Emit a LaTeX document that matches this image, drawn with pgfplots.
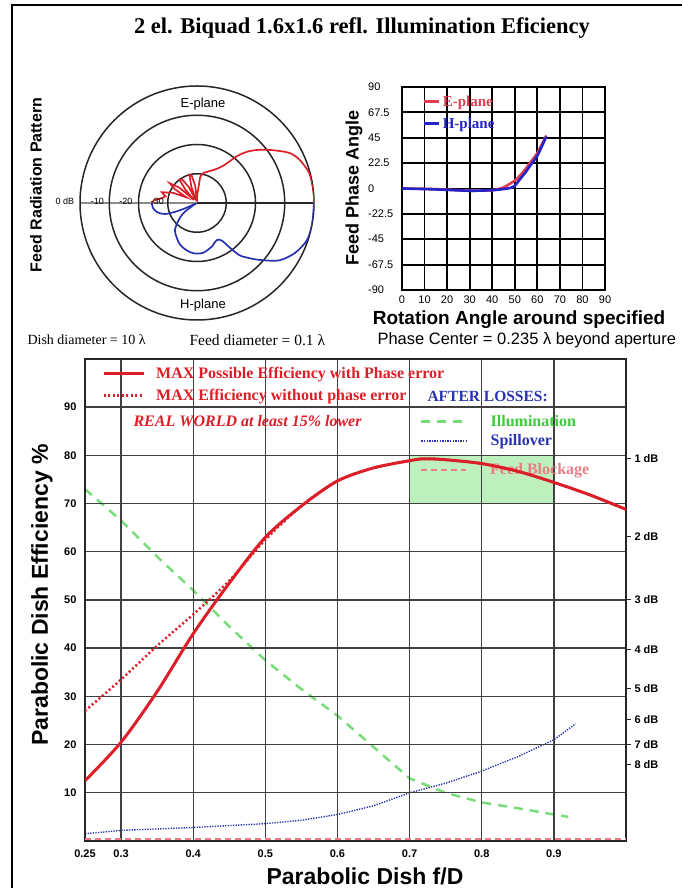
\documentclass[border=0pt]{standalone}
\usepackage{pgfplots}
\pgfplotsset{compat=1.18}
\usepgfplotslibrary{polar}
\usepackage{fontspec}
\setmainfont{Liberation Serif}
\setsansfont{Liberation Sans}
\definecolor{mred}{RGB}{220,30,40}
\definecolor{pred}{RGB}{225,60,80}
\definecolor{mblue}{RGB}{40,50,175}
\definecolor{pblue}{RGB}{35,35,200}
\definecolor{mgreen}{RGB}{120,220,120}
\definecolor{tgreen}{RGB}{60,205,60}
\definecolor{mpink}{RGB}{235,125,135}
\definecolor{fgreen}{RGB}{190,240,190}
\begin{document}
\begin{tikzpicture}
\useasboundingbox (0pt,0pt) rectangle (681pt,888pt);
\draw[line width=2.5pt] (12pt,-2pt) -- (12pt,883pt) -- (683pt,883pt);
\node[font=\bfseries\fontsize{22.5}{26}\selectfont] at (362pt,860pt) {2 el. Biquad 1.6x1.6 refl. Illumination Eficiency};

% ---------- polar pattern ----------
\begin{polaraxis}[at={(197pt,685pt)}, anchor=center, scale only axis,
  width=234pt, height=234pt, ymin=0, ymax=40,
  xtick={0,180}, ytick={10,20,30}, xticklabels={}, yticklabels={},
  major tick length=0pt, xmajorgrids, ymajorgrids,
  x grid style={black!45, line width=2pt},
  y grid style={black!85, line width=1.5pt},
  axis line style={black!85, line width=1.5pt}]
\addplot[mred, line width=1.7pt, smooth, tension=0.5] coordinates {
(0,40) (6,40) (15,39.7) (23,38) (28.5,35.9) (35,31.5) (40.5,28) (45,25) (48,22.5) (50,20.5) (52,18) (55,15.5) (60,13.5) (65,12.3) (72,11.2) (78,10.5) (83,9)};
\addplot[mred, line width=1.7pt] coordinates {
(83,9) (88,3) (91,0.5) (96,6) (101,9.5) (105,10) (109,6) (113,1) (117,6) (122,9.5) (127,10) (131,6) (135,1.5) (139,8) (144,11.5) (148,9) (152,4) (157,9) (163,12.6) (168,11) (172,12) (176,14.7) (180,15.4)};
\addplot[mblue, line width=1.7pt, smooth, tension=0.5] coordinates {
(0,40) (-10,40) (-18.6,39.7) (-27,37.6) (-35,34.2) (-42.6,28.7) (-48,25) (-51,22.9) (-54,18.5) (-56,15.8) (-59,14.6) (-62,14.4) (-66,14.8) (-71,15.7) (-82,17.1) (-90,17.3) (-96,17.1) (-103,16.5) (-112,15.4) (-120,13.8) (-129,12) (-136,9) (-143,6) (-148,2) (-152,0.3)};
\addplot[mblue, line width=1.7pt, smooth, tension=0.5] coordinates {
(-152,0.3) (-156,4.5) (-158,8) (-161,11.6) (-167,14) (-174,15.2) (-180,15.4)};
\end{polaraxis}
\node[rotate=90, font=\sffamily\bfseries\fontsize{16}{18}\selectfont] at (36pt,703pt) {Feed Radiation Pattern};
\node[font=\sffamily\fontsize{13}{14}\selectfont] at (203pt,784pt) {E-plane};
\node[font=\sffamily\fontsize{13}{14}\selectfont] at (203pt,583pt) {H-plane};
\node[font=\sffamily\fontsize{9}{10}\selectfont] at (65pt,687pt) {0 dB};
\node[font=\sffamily\fontsize{9}{10}\selectfont] at (97.5pt,687pt) {-10};
\node[font=\sffamily\fontsize{9}{10}\selectfont] at (126pt,687pt) {-20};
\node[font=\sffamily\fontsize{9}{10}\selectfont] at (157.5pt,687pt) {-30};

% ---------- phase plot ----------
\begin{axis}[at={(402pt,598pt)}, anchor=south west, scale only axis,
  width=203pt, height=203pt, xmin=0, xmax=90, ymin=-90, ymax=90,
  xtick={0,10,20,30,40,50,60,70,80,90},
  xticklabels={0,10,20,30,40,50,60,70,80,90},
  ytick={-90,-67.5,-45,-22.5,0,22.5,45,67.5,90},
  yticklabels={-90,-67.5,-45,-22.5,0,22.5,45,67.5,90},
  grid=major, major grid style={black, line width=1.8pt},
  axis line style={black, line width=2.6pt}, major tick length=0pt,
  tick label style={font=\sffamily\fontsize{11}{12}\selectfont},
  xticklabel style={yshift=-2pt},
  yticklabel style={anchor=west, xshift=-34pt, inner sep=0pt},
  legend style={at={(0.0985,0.963)}, anchor=north west, draw=none, fill=none,
    inner sep=0pt, row sep=8pt, font=\bfseries\fontsize{15}{17}\selectfont,
    cells={anchor=west}, nodes={inner sep=1pt}},
  legend image code/.code={\draw[#1] (0pt,0pt) -- (15pt,0pt); \path (17pt,0pt);}]
\addplot[pred, line width=2.6pt, smooth, tension=0.4] coordinates {
(0,0) (10,-0.3) (20,-1) (30,-2) (40,-1.5) (45,1) (50,7) (53,13) (55,18) (58,26) (60,31.5) (64,47)};
\addlegendentry{\textcolor{pred}{E-plane}}
\addplot[pblue, line width=2.6pt, smooth, tension=0.4] coordinates {
(0,0) (10,-0.5) (20,-1.2) (30,-2) (40,-1.5) (45,-0.5) (48,0.5) (50,2.5) (53,10) (55,15) (58,23.5) (60,29) (64,46)};
\addlegendentry{\textcolor{pblue}{H-plane}}
\end{axis}
\node[rotate=90, font=\sffamily\bfseries\fontsize{18}{20}\selectfont] at (354pt,700pt) {Feed Phase Angle};
\node[font=\sffamily\bfseries\fontsize{19}{21}\selectfont] at (519pt,568pt) {Rotation Angle around specified};
\node[anchor=west, font=\sffamily\fontsize{16.5}{18}\selectfont] at (374pt,548pt) {Phase Center = 0.235 λ beyond aperture};
\node[anchor=west, font=\fontsize{14}{16}\selectfont] at (24pt,548pt) {Dish diameter = 10 λ};
\node[anchor=west, font=\fontsize{15.5}{17}\selectfont] at (186pt,548pt) {Feed diameter = 0.1 λ};

% ---------- main efficiency plot ----------
\begin{axis}[at={(85pt,47pt)}, anchor=south west, scale only axis,
  width=541pt, height=482pt, xmin=0.25, xmax=1.0, ymin=0, ymax=100,
  xtick={0.25,0.3,0.4,0.5,0.6,0.7,0.8,0.9},
  xticklabels={0.25,0.3,0.4,0.5,0.6,0.7,0.8,0.9},
  ytick={10,20,30,40,50,60,70,80,90},
  yticklabels={10,20,30,40,50,60,70,80,90},
  grid=major, major grid style={black!75, line width=1.4pt},
  axis line style={black!85, line width=2.8pt}, major tick length=0pt,
  tick label style={font=\sffamily\bfseries\fontsize{11}{13}\selectfont},
  xticklabel style={yshift=-5pt}, yticklabel style={xshift=-5pt},
  axis on top,
  legend style={at={(0.6192,0.886)}, anchor=north west, draw=none, fill=none,
    inner sep=0pt, row sep=5pt, font=\bfseries\fontsize{16}{18}\selectfont,
    cells={anchor=west}, nodes={inner sep=1pt}},
  legend image code/.code={\draw[#1] (0pt,0pt) -- (45pt,0pt); \path (67pt,0pt);}]
\addplot[fill=fgreen, draw=none, forget plot] coordinates {(0.7,70) (0.9,70) (0.9,80) (0.7,80)} -- cycle;
\addplot[mgreen, line width=2.5pt, dash pattern=on 9pt off 7pt] coordinates {
(0.25,73) (0.3,66.5) (0.35,59) (0.4,52) (0.45,44.5) (0.5,37.5) (0.55,31.5) (0.6,26) (0.65,19.5) (0.7,13) (0.75,10) (0.8,8) (0.85,6.8) (0.9,5.5) (0.92,5)};
\addlegendentry{\textcolor{tgreen}{Illumination}}
\addplot[mblue, line width=1.4pt, dash pattern=on 1.3pt off 1.3pt] coordinates {
(0.25,1.5) (0.3,2.2) (0.4,2.8) (0.5,3.6) (0.55,4.3) (0.6,5.5) (0.65,7.3) (0.7,10) (0.75,12) (0.8,14.5) (0.85,17.5) (0.9,21) (0.93,24.3)};
\addlegendentry{\textcolor{mblue}{Spillover}}
\end{axis}

\begin{axis}[at={(85pt,47pt)}, anchor=south west, scale only axis,
  width=541pt, height=482pt, xmin=0.25, xmax=1.0, ymin=0, ymax=100,
  axis x line=none, axis y line*=right,
  ytick={79.43,63.10,50.12,39.81,31.62,25.12,19.95,15.85},
  yticklabels={1 dB,2 dB,3 dB,4 dB,5 dB,6 dB,7 dB,8 dB},
  axis line style={black!85, line width=2.8pt},
  tick align=outside, major tick length=5pt, tick style={black!85, line width=1pt},
  tick label style={font=\sffamily\bfseries\fontsize{11}{13}\selectfont},
  legend style={at={(0.6192,0.77)}, anchor=west, draw=none, fill=none,
    inner sep=0pt, font=\bfseries\fontsize{16}{18}\selectfont,
    cells={anchor=west}, nodes={inner sep=1pt}},
  legend image code/.code={\draw[#1] (0pt,0pt) -- (45pt,0pt); \path (67pt,0pt);}]
\addplot[mpink, line width=2pt, dash pattern=on 6pt off 4pt] coordinates {(0.25,0.5) (1.0,0.5)};
\addlegendentry{\textcolor{mpink}{Feed Blockage}}
\end{axis}

\begin{axis}[at={(85pt,47pt)}, anchor=south west, scale only axis,
  width=541pt, height=482pt, xmin=0.25, xmax=1.0, ymin=0, ymax=100, hide axis,
  legend style={at={(0.0314,0.9855)}, anchor=north west, draw=none, fill=none,
    inner sep=0pt, row sep=7pt, font=\bfseries\fontsize{16}{18}\selectfont,
    cells={anchor=west}, nodes={inner sep=1pt}},
  legend image code/.code={\draw[#1] (0pt,0pt) -- (40pt,0pt); \path (50pt,0pt);}]
\addplot[mred, line width=3pt, smooth, tension=0.5] coordinates {
(0.25,12.5) (0.3,20.5) (0.35,31) (0.4,43) (0.45,53.5) (0.5,63) (0.55,69.5) (0.6,74.7) (0.65,77.4) (0.7,78.9) (0.72,79.3) (0.75,79.1) (0.8,78.3) (0.85,76.7) (0.9,74.4) (0.95,71.8) (1.0,68.8)};
\addlegendentry{\textcolor{mred}{MAX Possible Efficiency with Phase error}}
\addplot[mred, line width=2.5pt, dash pattern=on 2pt off 2.5pt, smooth, tension=0.5] coordinates {
(0.25,27) (0.3,33.5) (0.35,40.5) (0.4,47) (0.45,54) (0.5,62.5) (0.55,69.5) (0.6,74.7) (0.65,77.4) (0.7,78.9) (0.72,79.3) (0.75,79.1) (0.8,78.3) (0.85,76.7) (0.9,74.4) (0.95,71.8) (1.0,68.8)};
\addlegendentry{\textcolor{mred}{MAX Efficiency without phase error}}
\end{axis}
\node[anchor=west, text=mred, font=\bfseries\itshape\fontsize{16}{18}\selectfont] at (130pt,467pt) {REAL WORLD at least 15\% lower};
\node[anchor=west, text=mblue, font=\bfseries\fontsize{15.5}{18}\selectfont] at (424pt,492pt) {AFTER LOSSES:};
\node[rotate=90, font=\sffamily\bfseries\fontsize{23}{26}\selectfont] at (42pt,293pt) {Parabolic Dish Efficiency \%};
\node[font=\sffamily\bfseries\fontsize{23}{26}\selectfont] at (365pt,12pt) {Parabolic Dish f/D};
\end{tikzpicture}
\end{document}
